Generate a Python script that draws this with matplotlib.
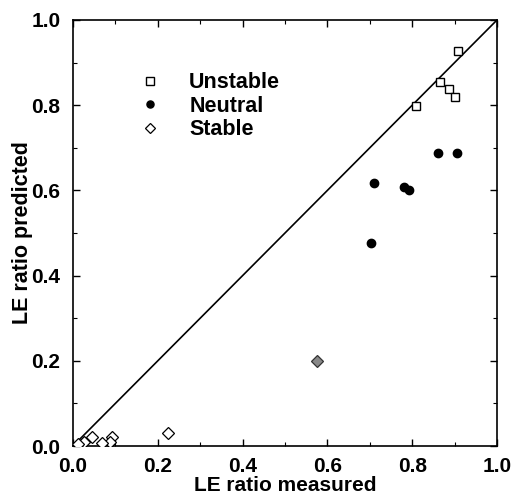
import matplotlib.pyplot as plt
from matplotlib.ticker import MultipleLocator

plt.rcParams['font.family'] = ['Liberation Sans', 'DejaVu Sans']
plt.rcParams['font.weight'] = 'bold'

# Unstable (open squares)
unstable_x = [0.909, 0.866, 0.886, 0.902, 0.808]
unstable_y = [0.928, 0.854, 0.837, 0.820, 0.799]

# Neutral (filled circles)
neutral_x = [0.711, 0.781, 0.792, 0.703, 0.862, 0.905]
neutral_y = [0.618, 0.609, 0.600, 0.477, 0.687, 0.688]

# Stable (open diamonds)
stable_x = [0.225, 0.044, 0.027, 0.091, 0.087, 0.068, 0.012]
stable_y = [0.031, 0.020, 0.010, 0.022, 0.010, 0.006, 0.004]

# Stable point drawn shaded
stable_gray_x = [0.575]
stable_gray_y = [0.200]

fig = plt.figure(figsize=(5.13, 5.0), dpi=100)
ax = fig.add_axes([73 / 513, 54 / 500, 424 / 513, 426 / 500])

# 1:1 line
ax.plot([0, 1], [0, 1], color='black', lw=1.2, zorder=1)

ax.plot(unstable_x, unstable_y, 's', ms=6, mfc='white', mec='black', mew=1.0,
        ls='none', label='Unstable', zorder=3)
ax.plot(neutral_x, neutral_y, 'o', ms=6, mfc='black', mec='black',
        ls='none', label='Neutral', zorder=3)
ax.plot(stable_x, stable_y, 'D', ms=6, mfc='white', mec='black', mew=0.9,
        ls='none', label='Stable', zorder=3)
ax.plot(stable_gray_x, stable_gray_y, 'D', ms=6, mfc='#888888', mec='#333333',
        mew=0.9, ls='none', zorder=3)

ax.set_xlim(0, 1)
ax.set_ylim(0, 1)
ax.xaxis.set_major_locator(MultipleLocator(0.2))
ax.yaxis.set_major_locator(MultipleLocator(0.2))
ax.xaxis.set_minor_locator(MultipleLocator(0.1))
ax.yaxis.set_minor_locator(MultipleLocator(0.1))
ax.xaxis.set_major_formatter(plt.FormatStrFormatter('%.1f'))
ax.yaxis.set_major_formatter(plt.FormatStrFormatter('%.1f'))
ax.tick_params(which='both', direction='in', top=True, right=True)
ax.tick_params(which='major', length=5, width=1, labelsize=15)
ax.tick_params(axis='x', which='major', pad=8)
ax.tick_params(axis='y', which='major', pad=9)
ax.tick_params(which='minor', length=3, width=0.8)
for sp in ax.spines.values():
    sp.set_linewidth(1.2)

ax.set_xlabel('LE ratio measured', fontsize=15, fontweight='bold', labelpad=0)
ax.set_ylabel('LE ratio predicted', fontsize=15.5, fontweight='bold', labelpad=-1)

leg = ax.legend(loc='upper left', bbox_to_anchor=(0.110, 0.923), frameon=False,
                fontsize=15.5, handletextpad=1.33, labelspacing=0.12,
                handlelength=1.0, markerscale=0.85)
for t in leg.get_texts():
    t.set_fontweight('bold')

fig.savefig('out.png', dpi=100)
